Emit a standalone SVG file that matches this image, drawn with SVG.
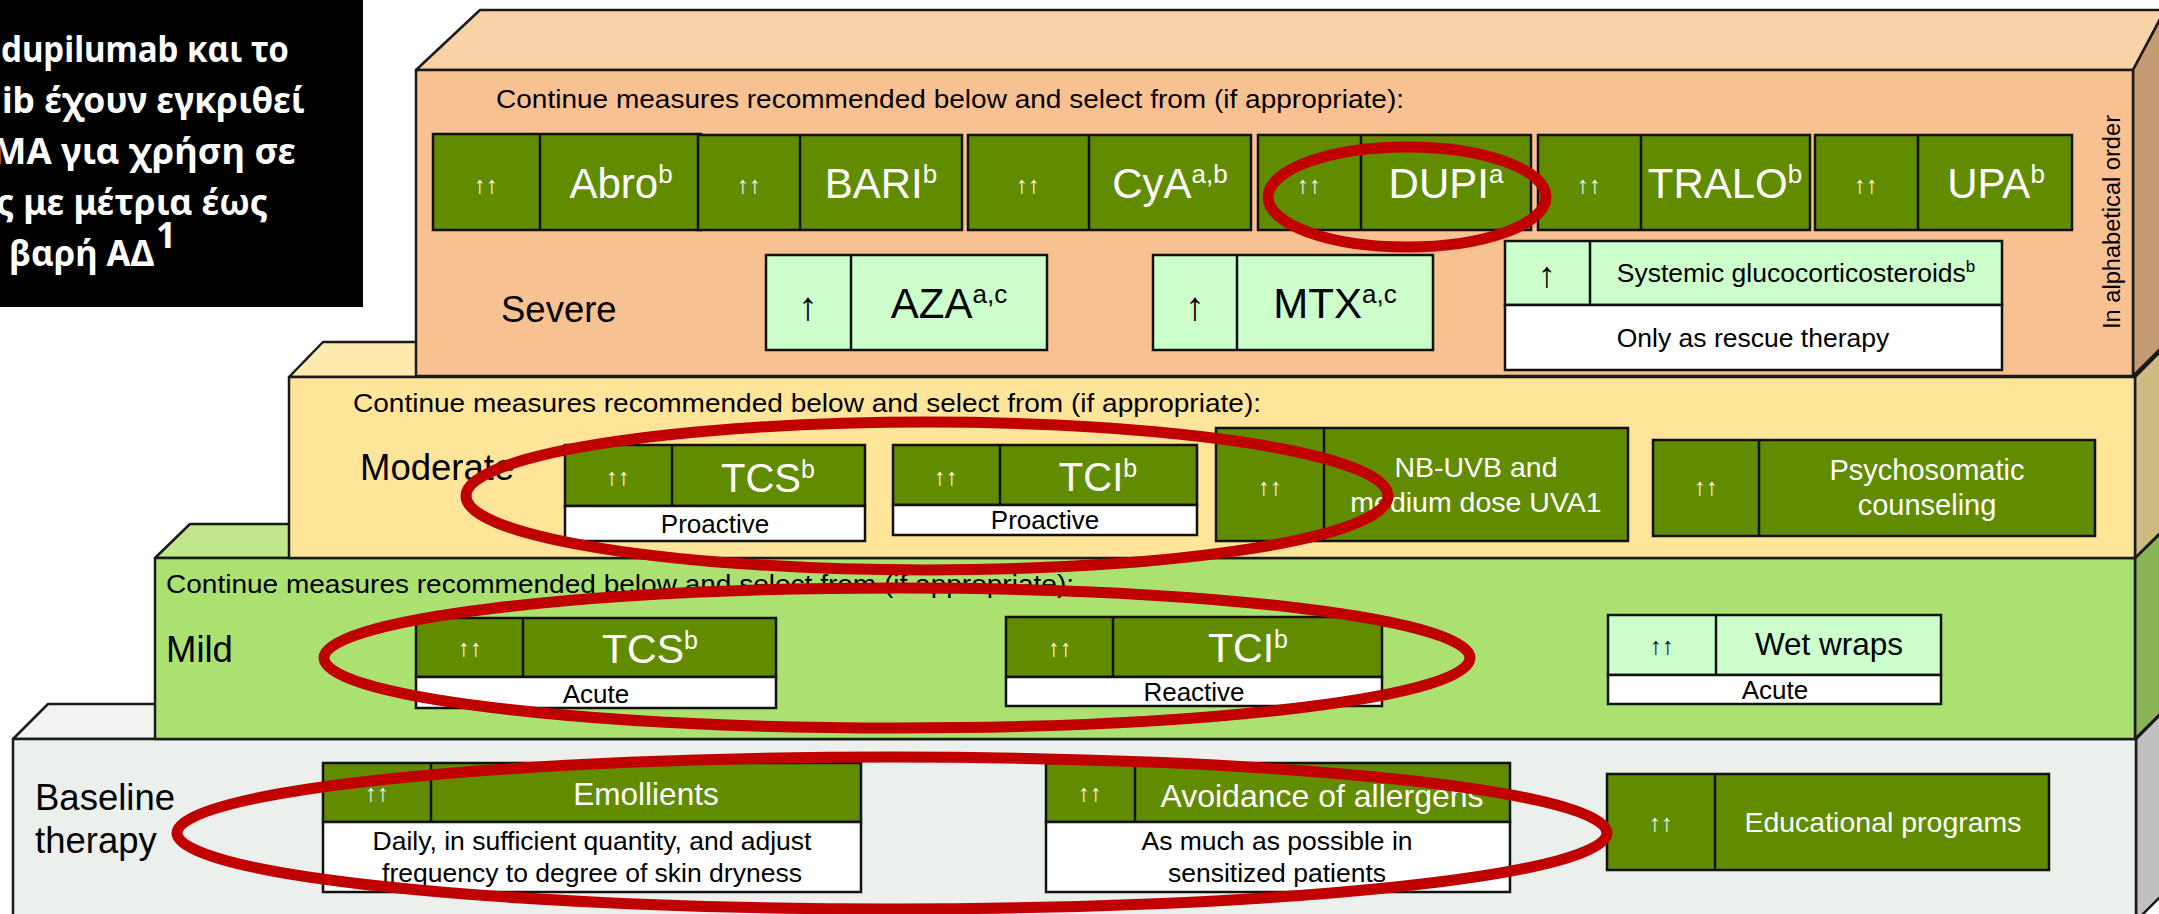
<svg xmlns="http://www.w3.org/2000/svg" width="2159" height="914" viewBox="0 0 2159 914">
<style>
  text { font-family: "Liberation Sans", Arial, sans-serif; }
  .face { stroke: #1a1a1a; stroke-width: 2.5; stroke-linejoin: round; }
  .dk { fill: #628C00; stroke: #111; stroke-width: 2.5; }
  .lt { fill: #CCFFCC; stroke: #111; stroke-width: 2.5; }
  .wb { fill: #FFFFFF; stroke: #111; stroke-width: 2.5; }
  .div { stroke: #111; stroke-width: 2.5; }
  .w { fill: #FFFFFF; }
  .k { fill: #000000; }
  .mid { text-anchor: middle; }
  .lvl { font-size: 36.5px; fill: #000; }
  .cont { font-size: 26px; fill: #000; }
  .name { font-size: 42px; }
  .arr { font-size: 24px; }
  .up { font-size: 40px; }
  .sub { font-size: 26.5px; }
  .ring { fill: none; stroke: #C00000; stroke-width: 11; }
  .note { font-family: "Noto Sans", "Open Sans", sans-serif; font-weight: bold; font-size: 35px; fill: #fff; }
</style>

<!-- Baseline therapy block -->
<g id="level-baseline">
  <polygon class="face" points="13,739 48,704 2171,704 2136,739" fill="#F1F3F0"/>
  <polygon class="face" points="2136,739 2171,704 2171,886 2136,921" fill="#C0C0C0"/>
  <rect class="face" x="13" y="739" width="2123" height="190" fill="#EBF0EC"/>
  <text class="lvl" x="35" y="810">Baseline</text>
  <text class="lvl" x="35" y="853">therapy</text>
</g>

<!-- Mild block -->
<g id="level-mild">
  <polygon class="face" points="155,558 190,524 2170,524 2135,558" fill="#BFE68A"/>
  <polygon class="face" points="2135,558 2170,524 2170,704 2135,739" fill="#8AB356"/>
  <rect class="face" x="155" y="558" width="1980" height="181" fill="#AAE170"/>
  <text class="cont" x="166" y="593" textLength="908" lengthAdjust="spacingAndGlyphs">Continue measures recommended below and select from (if appropriate):</text>
  <text class="lvl" x="166" y="662">Mild</text>
</g>

<!-- Moderate block -->
<g id="level-moderate">
  <polygon class="face" points="289,377 323,342 2170,342 2135,377" fill="#FFEAAE"/>
  <polygon class="face" points="2135,377 2170,342 2170,523 2135,558" fill="#CDBB82"/>
  <rect class="face" x="289" y="377" width="1846" height="181" fill="#FFE599"/>
  <text class="cont" x="353" y="412" textLength="908" lengthAdjust="spacingAndGlyphs">Continue measures recommended below and select from (if appropriate):</text>
  <text class="lvl" x="360" y="480">Moderate</text>
</g>

<!-- Severe block -->
<g id="level-severe">
  <polygon class="face" points="416,70 480,10 2165,10 2133,70" fill="#F9D2A8"/>
  <polygon class="face" points="2133,70 2165,10 2165,344 2133,376" fill="#C49A70"/>
  <rect class="face" x="416" y="70" width="1717" height="306" fill="#F8C192"/>
  <text class="cont" x="496" y="108" textLength="908" lengthAdjust="spacingAndGlyphs">Continue measures recommended below and select from (if appropriate):</text>
  <text class="lvl" x="501" y="322">Severe</text>
  <text class="k" font-size="23" text-anchor="middle" transform="translate(2120,222) rotate(-90)" textLength="214" lengthAdjust="spacingAndGlyphs">In alphabetical order</text>
</g>

<!-- Severe: first-line systemic options -->
<g id="abro">
  <rect class="dk" x="433" y="134" width="268" height="96"/>
  <line class="div" x1="540" y1="134" x2="540" y2="230"/>
  <text class="w arr mid" x="486" y="193">↑↑</text>
  <text class="w name mid" x="621" y="198">Abro<tspan font-size="26" dy="-15">b</tspan></text>
</g>
<g id="bari">
  <rect class="dk" x="698" y="135" width="264" height="95"/>
  <line class="div" x1="800" y1="135" x2="800" y2="230"/>
  <text class="w arr mid" x="749" y="193">↑↑</text>
  <text class="w name mid" x="881" y="198">BARI<tspan font-size="26" dy="-15">b</tspan></text>
</g>
<g id="cya">
  <rect class="dk" x="968" y="135" width="283" height="95"/>
  <line class="div" x1="1089" y1="135" x2="1089" y2="230"/>
  <text class="w arr mid" x="1028" y="193">↑↑</text>
  <text class="w name mid" x="1170" y="198">CyA<tspan font-size="26" dy="-15">a,b</tspan></text>
</g>
<g id="dupi">
  <rect class="dk" x="1258" y="135" width="273" height="95"/>
  <line class="div" x1="1361" y1="135" x2="1361" y2="230"/>
  <text class="w arr mid" x="1309" y="193">↑↑</text>
  <text class="w name mid" x="1446" y="198">DUPI<tspan font-size="26" dy="-15">a</tspan></text>
</g>
<g id="tralo">
  <rect class="dk" x="1538" y="135" width="272" height="95"/>
  <line class="div" x1="1641" y1="135" x2="1641" y2="230"/>
  <text class="w arr mid" x="1589" y="193">↑↑</text>
  <text class="w name mid" x="1725" y="198">TRALO<tspan font-size="26" dy="-15">b</tspan></text>
</g>
<g id="upa">
  <rect class="dk" x="1815" y="135" width="257" height="95"/>
  <line class="div" x1="1918" y1="135" x2="1918" y2="230"/>
  <text class="w arr mid" x="1866" y="193">↑↑</text>
  <text class="w name mid" x="1996" y="198">UPA<tspan font-size="26" dy="-15">b</tspan></text>
</g>

<!-- Severe: second-line options -->
<g id="aza">
  <rect class="lt" x="766" y="255" width="281" height="95"/>
  <line class="div" x1="851" y1="255" x2="851" y2="350"/>
  <text class="k up mid" x="808" y="320">↑</text>
  <text class="k name mid" x="949" y="318">AZA<tspan font-size="26" dy="-15">a,c</tspan></text>
</g>
<g id="mtx">
  <rect class="lt" x="1153" y="255" width="280" height="95"/>
  <line class="div" x1="1237" y1="255" x2="1237" y2="350"/>
  <text class="k up mid" x="1195" y="320">↑</text>
  <text class="k name mid" x="1335" y="318">MTX<tspan font-size="26" dy="-15">a,c</tspan></text>
</g>
<g id="systemic-gcs">
  <rect class="lt" x="1505" y="241" width="497" height="64"/>
  <line class="div" x1="1590" y1="241" x2="1590" y2="305"/>
  <rect class="wb" x="1505" y="305" width="497" height="65"/>
  <text class="k mid" font-size="36" x="1547" y="287">↑</text>
  <text class="k mid" font-size="26.5" x="1796" y="282">Systemic glucocorticosteroids<tspan font-size="17" dy="-10">b</tspan></text>
  <text class="k mid sub" x="1753" y="347">Only as rescue therapy</text>
</g>

<!-- Moderate options -->
<g id="tcs-proactive">
  <rect class="dk" x="565" y="445" width="300" height="61"/>
  <line class="div" x1="672" y1="445" x2="672" y2="506"/>
  <rect class="wb" x="565" y="506" width="300" height="35"/>
  <text class="w arr mid" x="618" y="485">↑↑</text>
  <text class="w mid" font-size="40" x="768" y="492">TCS<tspan font-size="25" dy="-14">b</tspan></text>
  <text class="k mid" font-size="26" x="715" y="533">Proactive</text>
</g>
<g id="tci-proactive">
  <rect class="dk" x="893" y="445" width="304" height="60"/>
  <line class="div" x1="1000" y1="445" x2="1000" y2="505"/>
  <rect class="wb" x="893" y="505" width="304" height="30"/>
  <text class="w arr mid" x="946" y="485">↑↑</text>
  <text class="w mid" font-size="40" x="1098" y="491">TCI<tspan font-size="25" dy="-14">b</tspan></text>
  <text class="k mid" font-size="26" x="1045" y="529">Proactive</text>
</g>
<g id="phototherapy">
  <rect class="dk" x="1216" y="428" width="412" height="113"/>
  <line class="div" x1="1324" y1="428" x2="1324" y2="541"/>
  <text class="w arr mid" x="1270" y="495">↑↑</text>
  <text class="w mid" font-size="28.5" x="1476" y="477">NB-UVB and</text>
  <text class="w mid" font-size="28.5" x="1476" y="512">medium dose UVA1</text>
</g>
<g id="psychosomatic">
  <rect class="dk" x="1653" y="440" width="442" height="96"/>
  <line class="div" x1="1759" y1="440" x2="1759" y2="536"/>
  <text class="w arr mid" x="1706" y="495">↑↑</text>
  <text class="w mid" font-size="29" x="1927" y="480">Psychosomatic</text>
  <text class="w mid" font-size="29" x="1927" y="515">counseling</text>
</g>

<!-- Mild options -->
<g id="tcs-acute">
  <rect class="dk" x="416" y="618" width="360" height="59"/>
  <line class="div" x1="523" y1="618" x2="523" y2="677"/>
  <rect class="wb" x="416" y="677" width="360" height="31"/>
  <text class="w arr mid" x="470" y="656">↑↑</text>
  <text class="w mid" font-size="41" x="650" y="663">TCS<tspan font-size="25" dy="-14">b</tspan></text>
  <text class="k mid" font-size="26" x="596" y="703">Acute</text>
</g>
<g id="tci-reactive">
  <rect class="dk" x="1006" y="617" width="376" height="60"/>
  <line class="div" x1="1113" y1="617" x2="1113" y2="677"/>
  <rect class="wb" x="1006" y="677" width="376" height="29"/>
  <text class="w arr mid" x="1060" y="656">↑↑</text>
  <text class="w mid" font-size="41" x="1248" y="662">TCI<tspan font-size="25" dy="-14">b</tspan></text>
  <text class="k mid" font-size="26" x="1194" y="701">Reactive</text>
</g>
<g id="wet-wraps">
  <rect class="lt" x="1608" y="615" width="333" height="60"/>
  <line class="div" x1="1716" y1="615" x2="1716" y2="675"/>
  <rect class="wb" x="1608" y="675" width="333" height="29"/>
  <text class="k arr mid" x="1662" y="654">↑↑</text>
  <text class="k mid" font-size="31.5" x="1829" y="655">Wet wraps</text>
  <text class="k mid" font-size="26" x="1775" y="699">Acute</text>
</g>

<!-- Baseline options -->
<g id="emollients">
  <rect class="dk" x="323" y="763" width="538" height="59"/>
  <line class="div" x1="431" y1="763" x2="431" y2="822"/>
  <rect class="wb" x="323" y="822" width="538" height="70"/>
  <text class="w arr mid" x="377" y="801">↑↑</text>
  <text class="w mid" font-size="31.5" x="646" y="805">Emollients</text>
  <text class="k mid sub" x="592" y="850">Daily, in sufficient quantity, and adjust</text>
  <text class="k mid sub" x="592" y="882">frequency to degree of skin dryness</text>
</g>
<g id="allergen-avoidance">
  <rect class="dk" x="1046" y="763" width="464" height="59"/>
  <line class="div" x1="1135" y1="763" x2="1135" y2="822"/>
  <rect class="wb" x="1046" y="822" width="464" height="70"/>
  <text class="w arr mid" x="1090" y="801">↑↑</text>
  <text class="w mid" font-size="32" x="1322" y="807">Avoidance of allergens</text>
  <text class="k mid sub" x="1277" y="850">As much as possible in</text>
  <text class="k mid sub" x="1277" y="882">sensitized patients</text>
</g>
<g id="education">
  <rect class="dk" x="1607" y="774" width="442" height="96"/>
  <line class="div" x1="1715" y1="774" x2="1715" y2="870"/>
  <text class="w arr mid" x="1661" y="831">↑↑</text>
  <text class="w mid" font-size="28.5" x="1883" y="832">Educational programs</text>
</g>

<!-- Black note panel (Greek) -->
<g id="note">
  <rect x="0" y="0" width="363" height="307" fill="#000"/>
  <text class="note" x="1" y="62" textLength="288" lengthAdjust="spacingAndGlyphs">dupilumab και το</text>
  <text class="note" x="2" y="113" textLength="303" lengthAdjust="spacingAndGlyphs">ib έχουν εγκριθεί</text>
  <text class="note" x="-8" y="164" textLength="304" lengthAdjust="spacingAndGlyphs">MA για χρήση σε</text>
  <text class="note" x="-4" y="215" textLength="272" lengthAdjust="spacingAndGlyphs">ς με μέτρια έως</text>
  <text class="note" x="9" y="266" textLength="145" lengthAdjust="spacingAndGlyphs">βαρή ΑΔ</text>
  <text class="note" font-size="19" x="156" y="248">1</text>
</g>

<!-- Red highlight rings -->
<g id="highlights">
  <ellipse class="ring" cx="1407" cy="197" rx="139" ry="50"/>
  <ellipse class="ring" cx="927" cy="496" rx="461" ry="74"/>
  <ellipse class="ring" cx="897" cy="658" rx="573" ry="70"/>
  <ellipse class="ring" cx="892" cy="833" rx="715" ry="76"/>
</g>
</svg>
